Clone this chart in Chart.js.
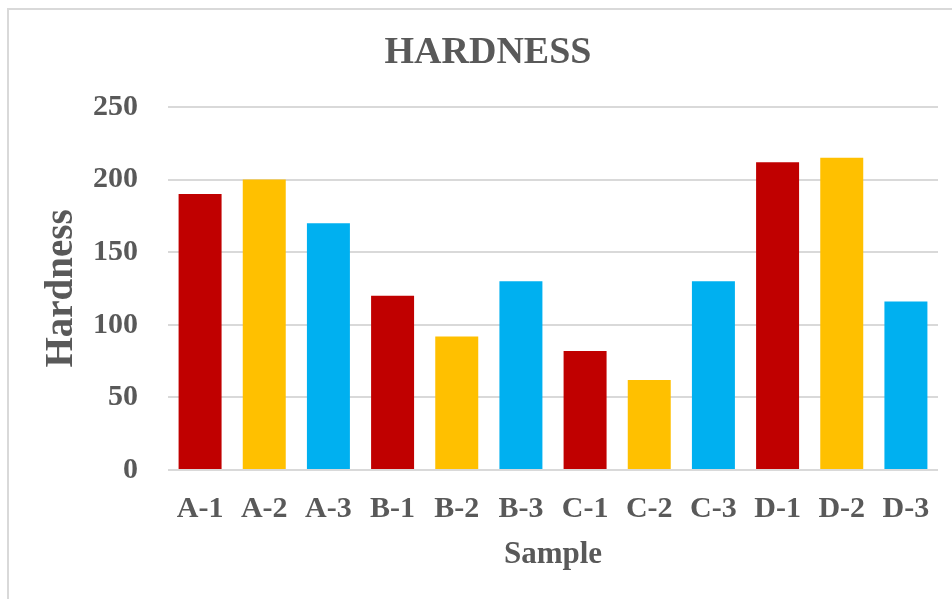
<!DOCTYPE html>
<html>
<head>
<meta charset="utf-8">
<title>Hardness</title>
<script src="https://cdn.jsdelivr.net/npm/chart.js@4.4.1/dist/chart.umd.min.js"></script>
<style>
  html, body { margin: 0; padding: 0; background: #ffffff; }
  #wrap { position: relative; width: 952px; height: 599px; }
</style>
</head>
<body>
<div id="wrap"><canvas id="chart" width="952" height="599"></canvas></div>
<script>
// Sample labels and measured hardness values
const samples = ['A-1', 'A-2', 'A-3', 'B-1', 'B-2', 'B-3', 'C-1', 'C-2', 'C-3', 'D-1', 'D-2', 'D-3'];
const hardness = [190, 200, 170, 120, 92, 130, 82, 62, 130, 212, 215, 116];
// Bar colour per sample group position (1 = red, 2 = gold, 3 = blue)
const barColors = ['#C00000', '#FFC000', '#00B0F0', '#C00000', '#FFC000', '#00B0F0',
                   '#C00000', '#FFC000', '#00B0F0', '#C00000', '#FFC000', '#00B0F0'];

const TEXT = '#595959';
const GRID = '#d9d9d9';
const SERIF = "'Liberation Serif', 'Times New Roman', serif";

// White background plus a light frame along the top and left edges
const framePlugin = {
  id: 'frame',
  beforeDraw(chart) {
    const ctx = chart.ctx;
    ctx.save();
    ctx.fillStyle = '#ffffff';
    ctx.fillRect(0, 0, chart.width, chart.height);
    ctx.strokeStyle = GRID;
    ctx.lineWidth = 2;
    ctx.beginPath();
    ctx.moveTo(8, chart.height);
    ctx.lineTo(8, 9);
    ctx.lineTo(chart.width, 9);
    ctx.stroke();
    ctx.restore();
  }
};

new Chart(document.getElementById('chart'), {
  type: 'bar',
  data: {
    labels: samples,
    datasets: [{
      label: 'Hardness',
      data: hardness,
      backgroundColor: barColors,
      borderWidth: 0,
      barPercentage: 0.67,
      categoryPercentage: 1.0
    }]
  },
  options: {
    responsive: false,
    animation: false,
    layout: { padding: { left: 38, right: 14, top: 0, bottom: 0 } },
    plugins: {
      legend: { display: false },
      tooltip: { enabled: false },
      title: {
        display: true,
        text: 'HARDNESS',
        color: TEXT,
        font: { family: SERIF, size: 38, weight: 'bold', lineHeight: 1.2 },
        padding: { top: 30, bottom: 31.4 }
      }
    },
    scales: {
      x: {
        grid: { display: false, drawTicks: false },
        border: { display: false },
        ticks: {
          color: TEXT,
          padding: 21,
          maxRotation: 0,
          autoSkip: false,
          font: { family: SERIF, size: 30, weight: 'bold' }
        },
        title: {
          display: true,
          text: 'Sample',
          color: TEXT,
          font: { family: SERIF, size: 31, weight: 'bold', lineHeight: 1.2 },
          padding: { top: 0, bottom: 25 }
        },
        afterFit(scale) { scale.height = 129; }
      },
      y: {
        min: 0,
        max: 250,
        grid: { color: GRID, lineWidth: 2, drawTicks: false },
        border: { display: false },
        ticks: {
          stepSize: 50,
          color: TEXT,
          padding: 30,
          font: { family: SERIF, size: 30, weight: 'bold' }
        },
        title: {
          display: true,
          text: 'Hardness',
          color: TEXT,
          font: { family: SERIF, size: 39, weight: 'bold', lineHeight: 1.2 },
          padding: { top: 0.6, bottom: 0 }
        },
        afterFit(scale) { scale.width = 130; }
      }
    }
  },
  plugins: [framePlugin]
});
</script>
</body>
</html>
